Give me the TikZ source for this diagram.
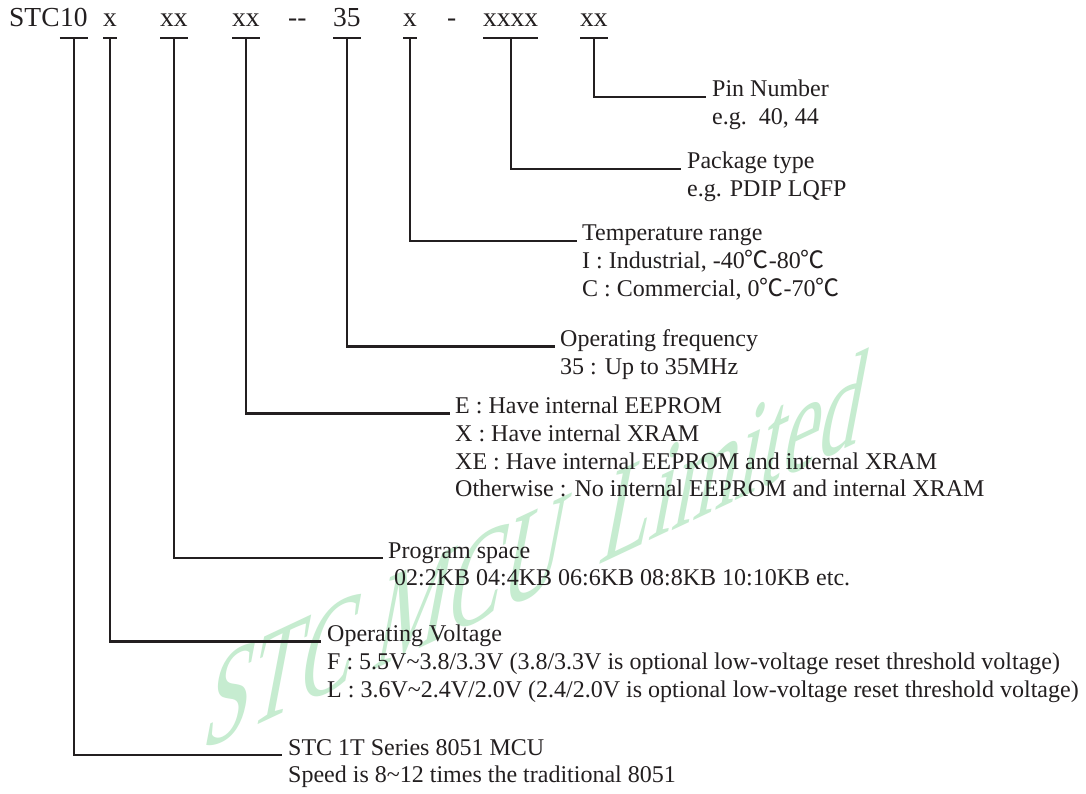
\documentclass[tikz,border=0pt]{standalone}
\usepackage{fontspec}
\setmainfont{Liberation Serif}
\newfontfamily\cjk{Noto Sans CJK SC}
\newfontfamily\wmfont{Liberation Serif}[FakeSlant=0.33]
\usetikzlibrary{calc}
\definecolor{ink}{RGB}{35,31,32}
\definecolor{wmgreen}{RGB}{198,236,208}
\newcommand{\degc}{{\cjk ℃}}
\begin{document}
\begin{tikzpicture}[x=1pt,y=-1pt,
  code/.style={anchor=base west,inner sep=0pt,text=ink,font=\fontsize{27.5}{33}\selectfont},
  lbl/.style={anchor=base west,inner sep=0pt,text=ink,font=\fontsize{24}{28}\selectfont},
  wire/.style={draw=ink,line width=2.2pt},
  barline/.style={draw=ink,line width=2.2pt},
  wmtext/.style={text=wmgreen,font=\wmfont\fontsize{86}{86}\selectfont,inner sep=0pt}]
\fill[white] (0,0) rectangle (1086,794);
\useasboundingbox (0,0) rectangle (1086,794);
% watermark
\begin{scope}[shift={(200,752)},yslant=0.47,xscale=0.95,yscale=1.5]
\node[wmtext,transform shape,anchor=base west] (wm) at (0,0) {STC MCU\ \ Limited};
\end{scope}
% code line
\node[code] (stc) at (9,27) {STC};
\node[code] (k1) at (stc.base east) {10};
\node[code] (k2) at (103,27) {x};
\node[code] (k3) at (160,27) {xx};
\node[code] (k4) at (232,27) {xx};
\node[code] (d1) at (288,27) {-{}-};
\node[code] (k5) at (333,27) {35};
\node[code] (k6) at (403,27) {x};
\node[code] (d2) at (447,27) {-};
\node[code] (k7) at (483,27) {xxxx};
\node[code] (k8) at (580,27) {xx};
\coordinate (bar) at (0,38);
\foreach \k in {k1,k2,k3,k4,k5,k6,k7,k8}
  \draw[barline] (\k.base west |- bar) -- (\k.base east |- bar);
% labels
\node[lbl] (pin1) at (712,97) {Pin Number};
\node[lbl] (pin2) at (712,124.7) {e.g.\ \ 40, 44};
\node[lbl] (pkg1) at (687,169) {Package type};
\node[lbl] (pkg2) at (687,196.8) {e.g. PDIP LQFP};
\node[lbl] (tmp1) at (582,241) {Temperature range};
\node[lbl] (tmp2) at (582,268.8) {I : Industrial, -40\degc-80\degc};
\node[lbl] (tmp3) at (582,296.6) {C : Commercial, 0\degc-70\degc};
\node[lbl] (frq1) at (560,346.5) {Operating frequency};
\node[lbl] (frq2) at (560,374.3) {35 : Up to 35MHz};
\node[lbl] (mem1) at (455,413.5) {E : Have internal EEPROM};
\node[lbl] (mem2) at (455,441.3) {X : Have internal XRAM};
\node[lbl] (mem3) at (455,469.1) {XE : Have internal EEPROM and internal XRAM};
\node[lbl] (mem4) at (455,496.9) {Otherwise : No internal EEPROM and internal XRAM};
\node[lbl] (prg1) at (388,558) {Program space};
\node[lbl] (prg2) at (394,585.8) {02:2KB 04:4KB 06:6KB 08:8KB 10:10KB etc.};
\node[lbl] (vlt1) at (327,641.5) {Operating Voltage};
\node[lbl] (vlt2) at (327,669.3) {F : 5.5V\textasciitilde3.8/3.3V (3.8/3.3V is optional low-voltage reset threshold voltage)};
\node[lbl] (vlt3) at (327,697.1) {L : 3.6V\textasciitilde2.4V/2.0V (2.4/2.0V is optional low-voltage reset threshold voltage)};
\node[lbl] (ser1) at (288,755) {STC 1T Series 8051 MCU};
\node[lbl] (ser2) at (288,782.8) {Speed is 8\textasciitilde12 times the traditional 8051};
% connectors
\draw[wire] (k8.base |- bar) |- ($(pin1.base west)+(-6,0)$);
\draw[wire] (k7.base |- bar) |- ($(pkg1.base west)+(-6,0)$);
\draw[wire] (k6.base |- bar) |- ($(tmp1.base west)+(-5,0)$);
\draw[wire] (k5.base |- bar) |- ($(frq1.base west)+(-5,0)$);
\draw[wire] (k4.base |- bar) |- ($(mem1.base west)+(-5,0)$);
\draw[wire] (k3.base |- bar) |- ($(prg1.base west)+(-5,0)$);
\draw[wire] (k2.base |- bar) |- ($(vlt1.base west)+(-6,0)$);
\draw[wire] (k1.base |- bar) |- ($(ser1.base west)+(-6,0)$);
\end{tikzpicture}
\end{document}
